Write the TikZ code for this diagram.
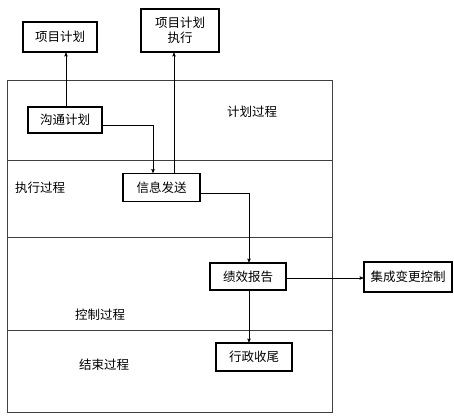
\documentclass[tikz,border=0pt]{standalone}
\usepackage{fontspec}
\setmainfont{Noto Sans CJK SC}
\usepackage{tikz}
\usetikzlibrary{
        arrows,
        positioning
    }
\tikzset{>=stealth',auto}
\tikzset{process box/.style={draw,line width=1.2pt,inner sep=0pt,align=center,font=\fontsize{12.5}{14.5}\selectfont}}
\tikzset{stage label/.style={font=\fontsize{12.5}{14.5}\selectfont}}
\tikzset{lane line/.style={draw=black!75,line width=0.6pt}}
\tikzset{flow/.style={->,line width=0.5pt}}

\begin{document}
\begin{tikzpicture}[x=1pt,y=-1pt]
            \useasboundingbox (0,0) rectangle (454,416);
            % lanes
            \draw[lane line] (7,80) rectangle (332,412);
            \draw[lane line] (7,160) -- (332,160);
            \draw[lane line] (7,237) -- (332,237);
            \draw[lane line] (7,330) -- (332,330);
            \node[stage label] (plan)    at (252,112) {计划过程};
            \node[stage label] (exec)    at (40,188)  {执行过程};
            \node[stage label] (control) at (100,315) {控制过程};
            \node[stage label] (close)   at (104,365) {结束过程};
            % boxes
            \node[process box][minimum width=74pt,minimum height=30pt] (xm)   at (60,37)    {项目计划};
            \node[process box][minimum width=78pt,minimum height=43pt] (xmzx) at (180,30.5) {项目计划\\执行};
            \node[process box][minimum width=74pt,minimum height=26pt] (gt)   at (65,120)   {沟通计划};
            \node[process box][minimum width=77pt,minimum height=28pt] (xx)   at (161.5,187.5) {信息发送};
            \node[process box][minimum width=76pt,minimum height=27pt] (jx)   at (248,276.5) {绩效报告};
            \node[process box][minimum width=88pt,minimum height=30pt] (jc)   at (408,277)  {集成变更控制};
            \node[process box][minimum width=76pt,minimum height=28pt] (xz)   at (254,357)  {行政收尾};
            \coordinate (gtout) at ([yshift=-5pt]gt.east);
            \coordinate (xxin)  at ([xshift=-8.5pt]xx.north);
            \coordinate (xxup)  at ([xshift=12.5pt]xx.north);
            \coordinate (xxout) at ([yshift=-5.5pt]xx.east);
            \coordinate (jxin)  at ([xshift=1pt]jx.north);
            \coordinate (jxdn)  at ([xshift=1pt]jx.south);
            % connectors
            \draw[flow] ([xshift=1pt]gt.north) -- ([xshift=1pt]gt.north |- xm.south);
            \draw[flow] (gtout) -| (xxin);
            \draw[flow] (xxup) -- (xxup |- xmzx.south);
            \draw[flow] (xxout) -| (jxin);
            \draw[flow] ([yshift=-1.5pt]jx.east) -- ([yshift=-1.5pt]jx.east -| jc.west);
            \draw[flow] (jxdn) -- (jxdn |- xz.north);
        \end{tikzpicture}
\end{document}
